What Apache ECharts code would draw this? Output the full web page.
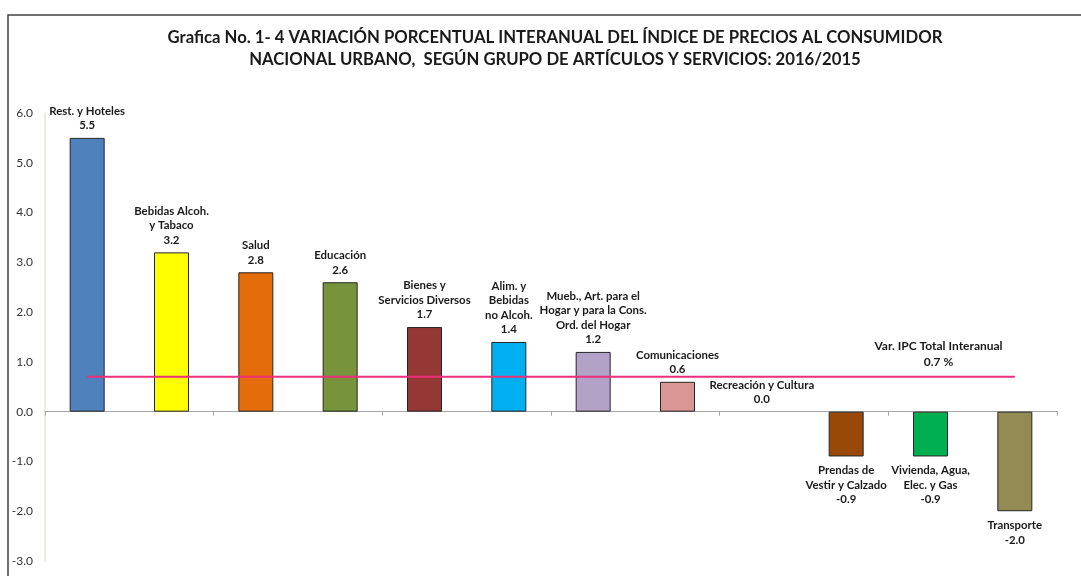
<!DOCTYPE html>
<html>
<head>
<meta charset="utf-8">
<script src="https://cdn.jsdelivr.net/npm/echarts@6/dist/echarts.min.js"></script>
<style>
html,body{margin:0;padding:0;background:#fff;}
#chart{width:1081px;height:576px;}
</style>
</head>
<body>
<div id="chart"></div>
<script>
var categories = ['Rest. y Hoteles', 'Bebidas Alcoh.\ny Tabaco', 'Salud', 'Educación', 'Bienes y\nServicios Diversos', 'Alim. y\nBebidas\nno Alcoh.', 'Mueb., Art. para el\nHogar y para la Cons.\nOrd. del Hogar', 'Comunicaciones', 'Recreación y Cultura', 'Prendas de\nVestir y Calzado', 'Vivienda, Agua,\nElec. y Gas', 'Transporte'];
var values = [5.5, 3.2, 2.8, 2.6, 1.7, 1.4, 1.2, 0.6, 0.0, -0.9, -0.9, -2.0];
var barColors = ['#4F81BD', '#FFFF00', '#E46C0A', '#77933C', '#953735', '#00B0F0', '#B3A2C7', '#D99694', '#FFFFFF', '#984807', '#00B050', '#948A54'];
var totalVar = 0.7;
var totalLabel = 'Var. IPC Total Interanual';
var totalLabelIndex = 10;
var yTicks = {min: -3, max: 6, interval: 1};
var titleText = 'Grafica No. 1- 4 VARIACIÓN PORCENTUAL INTERANUAL DEL ÍNDICE DE PRECIOS AL CONSUMIDOR\nNACIONAL URBANO,  SEGÚN GRUPO DE ARTÍCULOS Y SERVICIOS: 2016/2015';

var FONT = 'Lato';
var chart = echarts.init(document.getElementById('chart'));

var barData = values.map(function (v, i) {
  return {
    value: v,
    itemStyle: {color: barColors[i], borderWidth: v === 0 ? 0 : 1},
    label: {
      position: v < 0 ? 'bottom' : 'top',
      distance: v < 0 ? 7 : 5
    }
  };
});

var lineData = categories.map(function () { return totalVar; });

chart.setOption({
  animation: false,
  backgroundColor: '#ffffff',
  title: {
    text: titleText,
    left: 550,
    top: 22,
    textAlign: 'center',
    textStyle: {fontFamily: FONT, fontWeight: 'bold', fontSize: 16.7, color: '#1a1a1a', lineHeight: 22}
  },
  graphic: [{
    type: 'rect',
    shape: {x: 8, y: 15, width: 1200, height: 700},
    style: {fill: 'none', stroke: '#404040', lineWidth: 1.5},
    silent: true
  }],
  grid: {left: 45, right: 24, top: 113, bottom: 15, containLabel: false},
  xAxis: {
    type: 'category',
    data: categories,
    axisLine: {onZero: true, lineStyle: {color: '#A6A6A6', width: 1}},
    axisTick: {show: true, length: 4, lineStyle: {color: '#A6A6A6'}},
    axisLabel: {show: false},
    splitLine: {show: false}
  },
  yAxis: {
    type: 'value',
    min: yTicks.min, max: yTicks.max, interval: yTicks.interval,
    axisLine: {show: true, lineStyle: {color: '#E8E4D8', width: 1.5}},
    axisTick: {show: false},
    splitLine: {show: false},
    axisLabel: {
      fontFamily: FONT, fontSize: 12, color: '#333333', margin: 12,
      formatter: function (v) { return v.toFixed(1); }
    }
  },
  series: [{
    type: 'bar',
    data: barData,
    barWidth: 35,
    itemStyle: {borderColor: '#262626', borderWidth: 1},
    label: {
      show: true,
      fontFamily: FONT, fontWeight: 'bold', fontSize: 11.4, color: '#1a1a1a',
      lineHeight: 14.5, align: 'center',
      formatter: function (p) { return categories[p.dataIndex] + '\n' + p.value.toFixed(1); }
    },
    z: 2
  }, {
    type: 'line',
    data: lineData,
    symbol: 'none',
    lineStyle: {color: '#EC2F7B', width: 2},
    z: 3
  }, {
    type: 'scatter',
    data: [[totalLabelIndex, totalVar]],
    symbolSize: 0,
    itemStyle: {color: '#EC2F7B', opacity: 1},
    label: {
      show: true,
      position: 'top',
      distance: 7,
      offset: [8, 0],
      formatter: totalLabel + '\n' + totalVar.toFixed(1) + ' %',
      fontFamily: FONT, fontWeight: 'bold', fontSize: 12, color: '#1a1a1a',
      opacity: 1,
      lineHeight: 15.5, align: 'center'
    },
    z: 4
  }]
});
</script>
</body>
</html>
